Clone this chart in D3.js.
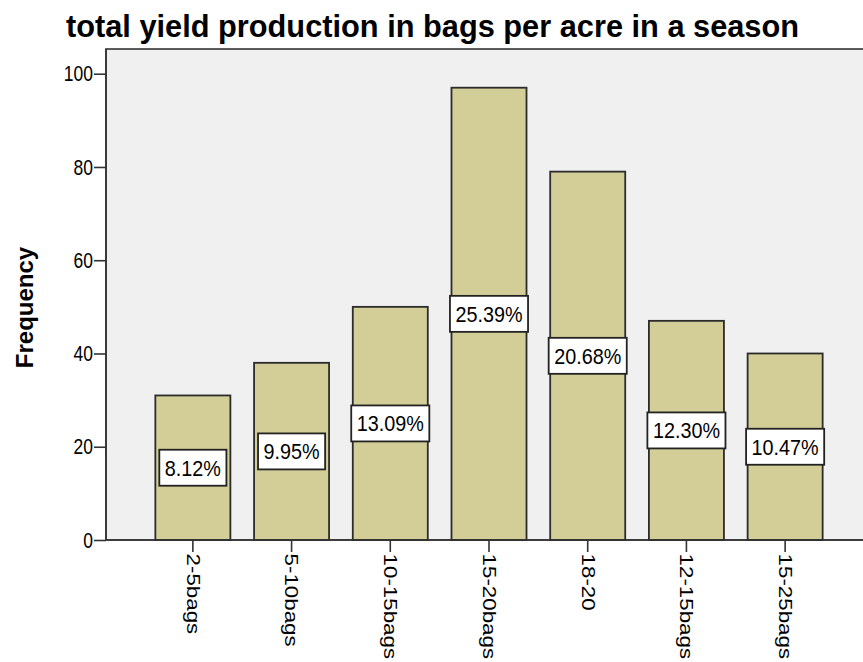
<!DOCTYPE html>
<html>
<head>
<meta charset="utf-8">
<script src="https://cdn.jsdelivr.net/npm/d3@7"></script>
<style>
  html, body { margin: 0; padding: 0; background: #fff; }
  svg { display: block; }
  text { font-family: "Liberation Sans", Arial, sans-serif; fill: #000; }
</style>
</head>
<body>
<svg id="chart" width="863" height="662"></svg>
<script>
// Yield classes and number of respondents in each
const categories = ["2-5bags", "5-10bags", "10-15bags", "15-20bags", "18-20", "12-15bags", "15-25bags"];
const frequencies = [31, 38, 50, 97, 79, 47, 40];
const percentLabels = ["8.12%", "9.95%", "13.09%", "25.39%", "20.68%", "12.30%", "10.47%"];
const yTicks = [0, 20, 40, 60, 80, 100];
const titleText = "total yield production in bags per acre in a season";
const yTitle = "Frequency";

const svg = d3.select("#chart");
const W = 863, H = 662;

const plot = { left: 106, top: 49, right: 872, bottom: 540 };

const x = d3.scaleBand()
  .domain(categories)
  .range([plot.left, plot.right])
  .paddingInner(0.24)
  .paddingOuter(0.5);

const y = d3.scaleLinear()
  .domain([0, 105.3])
  .range([plot.bottom, plot.top]);

// Title
svg.append("text")
  .attr("x", 66)
  .attr("y", 37)
  .attr("textLength", 733)
  .attr("lengthAdjust", "spacingAndGlyphs")
  .style("font-size", "32px")
  .style("font-weight", "bold")
  .text(titleText);

// Plot background frame
svg.append("rect")
  .attr("x", plot.left)
  .attr("y", plot.top)
  .attr("width", plot.right - plot.left)
  .attr("height", plot.bottom - plot.top)
  .attr("fill", "#f0f0f0")
  .attr("stroke", "#333")
  .attr("stroke-width", 1.6);

// Bars
svg.append("g").selectAll("rect")
  .data(categories)
  .join("rect")
  .attr("x", d => x(d))
  .attr("y", (d, i) => y(frequencies[i]))
  .attr("width", x.bandwidth())
  .attr("height", (d, i) => y(0) - y(frequencies[i]))
  .attr("fill", "#d3ce97")
  .attr("stroke", "#2b2b2b")
  .attr("stroke-width", 1.8);

// Percentage labels in white boxes, centred on each bar
const lab = svg.append("g").selectAll("g")
  .data(categories)
  .join("g")
  .attr("transform", (d, i) => `translate(${x(d) + x.bandwidth() / 2},${y(frequencies[i] / 2)})`);

lab.append("rect").attr("class", "box");
lab.append("text")
  .attr("text-anchor", "middle")
  .attr("dy", "0.36em")
  .attr("transform", "scale(0.9,1)")
  .style("font-size", "22px")
  .text((d, i) => percentLabels[i]);

lab.each(function () {
  const g = d3.select(this);
  const w = g.select("text").node().getComputedTextLength() * 0.9 + 11;
  g.select("rect")
    .attr("x", -w / 2)
    .attr("y", -18)
    .attr("width", w)
    .attr("height", 36)
    .attr("fill", "#fff")
    .attr("stroke", "#222")
    .attr("stroke-width", 1.8);
});

// Y axis
const yAxis = svg.append("g")
  .attr("transform", `translate(${plot.left},0)`)
  .call(d3.axisLeft(y).tickValues(yTicks).tickSize(12).tickPadding(0));
yAxis.select(".domain").remove();
yAxis.selectAll(".tick line").attr("stroke", "#333").attr("stroke-width", 1.6);
yAxis.selectAll(".tick text")
  .style("font-size", "19px")
  .style("font-family", "'Liberation Sans', Arial, sans-serif")
  .attr("fill", "#000")
  .attr("x", null)
  .attr("dy", null)
  .attr("transform", "translate(-13,0) scale(0.92,1.12)")
  .attr("dy", "0.33em");
svg.append("line")
  .attr("x1", plot.left).attr("x2", plot.left)
  .attr("y1", plot.top).attr("y2", plot.bottom)
  .attr("stroke", "#333").attr("stroke-width", 1.6);

// X axis
const xAxis = svg.append("g")
  .attr("transform", `translate(0,${plot.bottom})`)
  .call(d3.axisBottom(x).tickSize(12).tickPadding(0));
xAxis.select(".domain")
  .attr("d", `M${plot.left},0H${W}`)
  .attr("stroke", "#333").attr("stroke-width", 1.6);
xAxis.selectAll(".tick line").attr("stroke", "#333").attr("stroke-width", 1.6);
xAxis.selectAll(".tick text")
  .style("font-size", "18px")
  .style("font-family", "'Liberation Sans', Arial, sans-serif")
  .attr("fill", "#000")
  .attr("text-anchor", "start")
  .attr("transform", "rotate(90) scale(1.24,1)")
  .attr("x", 11)
  .attr("y", 0)
  .attr("dy", "0.34em");

// Y axis title
svg.append("text")
  .attr("transform", `translate(33,${(plot.top + plot.bottom) / 2 + 13}) rotate(-90)`)
  .attr("text-anchor", "middle")
  .style("font-size", "24px")
  .style("font-weight", "bold")
  .text(yTitle);
</script>
</body>
</html>
